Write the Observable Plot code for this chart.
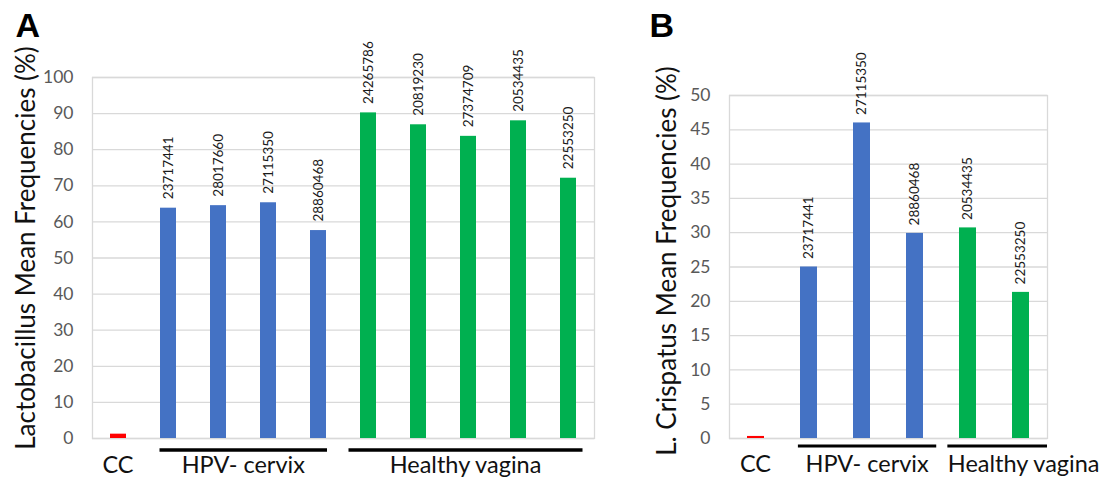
<!DOCTYPE html>
<html>
<head>
<meta charset="utf-8">
<script src="https://cdn.jsdelivr.net/npm/d3@7"></script>
<script src="https://cdn.jsdelivr.net/npm/@observablehq/plot@0.6"></script>
<style>
  body { margin: 0; background: #fff; }
  #chart { position: relative; width: 1109px; height: 483px; overflow: hidden; }
  #chart > svg { position: absolute; top: 0; }
</style>
</head>
<body>
<div id="chart"></div>
<script>
// ---- Panel A: Lactobacillus mean frequencies (%) per sample ----
const lactoSamples = ["CC", "23717441", "28017660", "27115350", "28860468",
                      "24265786", "20819230", "27374709", "20534435", "22553250"];
const lactoGroups  = ["CC", "HPV- cervix", "HPV- cervix", "HPV- cervix", "HPV- cervix",
                      "Healthy vagina", "Healthy vagina", "Healthy vagina", "Healthy vagina", "Healthy vagina"];
const lactoValues  = [1.2, 63.8, 64.5, 65.3, 57.6, 90.2, 86.9, 83.7, 88.0, 72.1];
const lactoTicks   = [0, 10, 20, 30, 40, 50, 60, 70, 80, 90, 100];

// ---- Panel B: L. crispatus mean frequencies (%) per sample ----
const crispSamples = ["CC", "23717441", "27115350", "28860468", "20534435", "22553250"];
const crispGroups  = ["CC", "HPV- cervix", "HPV- cervix", "HPV- cervix", "Healthy vagina", "Healthy vagina"];
const crispValues  = [0.3, 25.0, 46.0, 29.9, 30.7, 21.3];
const crispTicks   = [0, 5, 10, 15, 20, 25, 30, 35, 40, 45, 50];

const groupNames  = ["CC", "HPV- cervix", "Healthy vagina"];
const groupColors = ["#ff0000", "#4472c4", "#00b050"];

const FONT = "Lato, 'Open Sans', sans-serif";

// Underlines and names of the sample groups, drawn below the x axis
// from the band scale (extents in band steps beyond the outer bar centres).
function groupBrackets(samples, groups, layout) {
  return (index, scales) => {
    const x = scales.x, y = scales.y;
    const bw = x.bandwidth(), step = x.step();
    const y0 = y(0);
    const g = d3.create("svg:g");
    for (const name of groupNames) {
      const members = samples.filter((s, i) => groups[i] === name);
      if (!members.length) continue;
      const c1 = x(members[0]) + bw / 2;
      const c2 = x(members[members.length - 1]) + bw / 2;
      const opt = layout[name] || {};
      const [el, er] = opt.extend || [0, 0];
      const x1 = c1 - el * step, x2 = c2 + er * step;
      if (opt.underline) {
        g.append("line")
          .attr("x1", x1).attr("x2", x2)
          .attr("y1", y0 + layout.lineOffset).attr("y2", y0 + layout.lineOffset)
          .attr("stroke", "#000").attr("stroke-width", layout.lineWidth);
      }
      g.append("text")
        .attr("x", (x1 + x2) / 2 + (opt.shift || 0) * step)
        .attr("y", y0 + layout.textOffset)
        .attr("text-anchor", "middle")
        .attr("font-size", 23.5)
        .attr("font-family", FONT)
        .attr("fill", "#111")
        .text(name);
    }
    return g.node();
  };
}

function panel({samples, groups, values, ticks, yMax, title, letter, width,
                margins, titleDx, titleDy, letterDx, letterDy, labelDy, layout}) {
  const rows = samples.map((s, i) => ({sample: s, group: groups[i], value: values[i]}));
  const labelled = rows.filter(d => d.group !== "CC");
  return Plot.plot({
    width,
    height: 483,
    ...margins,
    style: {fontFamily: FONT, background: "transparent", overflow: "visible"},
    x: {domain: samples, paddingInner: 0.67, paddingOuter: 0.335, axis: null},
    y: {domain: [0, yMax], axis: null},
    color: {domain: groupNames, range: groupColors},
    marks: [
      Plot.gridY(ticks, {stroke: "#d9d9d9", strokeOpacity: 1, strokeWidth: 1.3}),
      Plot.frame({stroke: "#d9d9d9", strokeWidth: 1.3}),
      Plot.axisY(ticks, {tickSize: 0, tickPadding: 19, fontSize: 17.5, color: "#595959", label: null}),
      Plot.barY(rows, {x: "sample", y: "value", fill: "group"}),
      Plot.text(labelled, {x: "sample", y: "value", text: "sample", rotate: -90,
                           textAnchor: "start", dy: labelDy, fontSize: 13.5, fill: "#1a1a1a"}),
      Plot.text([title], {frameAnchor: "left", rotate: -90, textAnchor: "middle",
                          dx: titleDx, dy: titleDy, fontSize: 26, fill: "#111"}),
      Plot.text([letter], {frameAnchor: "top-left", textAnchor: "start", lineAnchor: "top",
                           dx: letterDx, dy: letterDy, fontSize: 34, fontWeight: "bold",
                           fontFamily: "'Liberation Sans', Arial, sans-serif", fill: "#000"}),
      groupBrackets(samples, groups, layout)
    ]
  });
}

const chartA = panel({
  samples: lactoSamples, groups: lactoGroups, values: lactoValues, ticks: lactoTicks, yMax: 100,
  title: "Lactobacillus Mean Frequencies (%)", letter: "A", width: 620,
  margins: {marginLeft: 92, marginRight: 26, marginTop: 77, marginBottom: 45},
  titleDx: -66, titleDy: -10, letterDx: -77, letterDy: -65, labelDy: -9,
  layout: {
    lineOffset: 12, lineWidth: 3.5, textOffset: 35,
    "CC": {extend: [0.05, 0.05], underline: false},
    "HPV- cervix": {extend: [0.17, 0.18], underline: true},
    "Healthy vagina": {extend: [0.39, 0.29], underline: true}
  }
});

const chartB = panel({
  samples: crispSamples, groups: crispGroups, values: crispValues, ticks: crispTicks, yMax: 50,
  title: "L. Crispatus Mean Frequencies (%)", letter: "B", width: 489,
  margins: {marginLeft: 109, marginRight: 62, marginTop: 95, marginBottom: 45},
  titleDx: -62, titleDy: -6, letterDx: -80, letterDy: -83, labelDy: -8,
  layout: {
    lineOffset: 8, lineWidth: 3.2, textOffset: 34,
    "CC": {extend: [0, 0], underline: false},
    "HPV- cervix": {extend: [0.2, 0.41], underline: true},
    "Healthy vagina": {extend: [0.38, 0.5], underline: true, shift: 0.5}
  }
});

const container = document.getElementById("chart");
chartA.style.left = "0px";
chartB.style.left = "620px";
container.append(chartA, chartB);
</script>
</body>
</html>
